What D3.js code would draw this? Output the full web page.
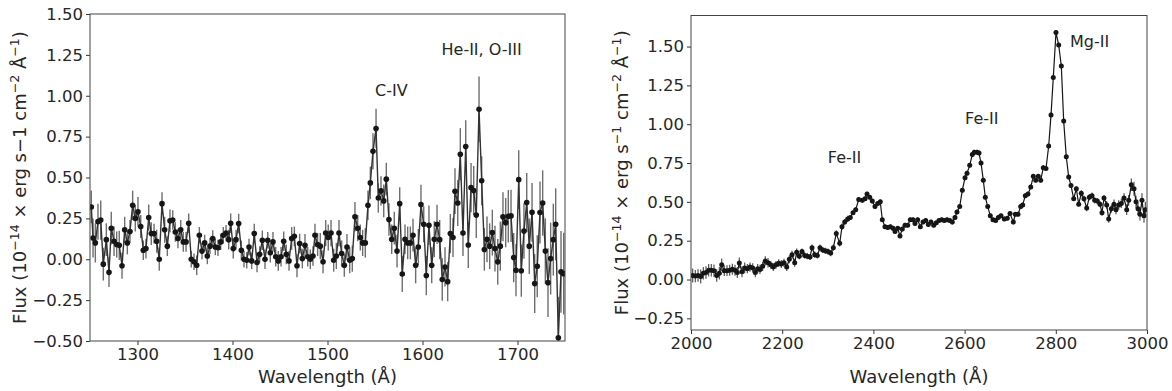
<!DOCTYPE html>
<html><head><meta charset="utf-8">
<script src="https://cdn.jsdelivr.net/npm/d3@7"></script>
<style>
html,body{margin:0;padding:0;background:#fff;}
svg{display:block;font-family:"DejaVu Sans",sans-serif;}
</style></head>
<body><svg id="chart" width="1172" height="391"></svg>
<script>
// ---------- LEFT PANEL DATA (C-IV / He-II region) ----------
const leftWave = [1251.4,1253.2,1255.6,1258.4,1261.3,1264.0,1267.2,1270.0,1272.4,1275.3,
1278.1,1280.8,1283.7,1286.5,1289.3,1292.1,1294.9,1297.7,1300.5,1303.4,
1306.1,1308.9,1311.8,1314.5,1317.4,1320.2,1322.9,1325.8,1328.6,1331.4,
1334.2,1337.1,1339.8,1342.6,1345.5,1348.2,1351.1,1353.9,1356.6,1359.5,
1362.3,1365.1,1367.9,1370.7,1373.5,1376.3,1379.2,1381.9,1384.7,1387.6,
1390.3,1393.2,1396.0,1398.1,1400.8,1403.7,1406.5,1409.3,1412.1,1415.0,
1417.4,1420.2,1422.9,1425.8,1428.6,1431.4,1434.2,1437.1,1439.8,1442.6,
1445.5,1448.2,1451.1,1453.9,1456.6,1459.5,1462.3,1465.1,1467.9,1470.7,
1473.5,1476.3,1479.2,1481.9,1484.7,1486.8,1489.6,1492.4,1495.3,1498.1,
1500.8,1503.7,1506.5,1509.3,1512.1,1514.9,1517.7,1520.5,1523.4,1526.1,
1528.9,1531.8,1534.5,1537.0,1539.8,1542.6,1545.1,1547.9,1551.1,1553.5,
1556.3,1559.2,1561.9,1564.7,1567.6,1570.3,1573.2,1576.0,1578.7,1581.6,
1584.4,1587.2,1590.0,1592.8,1595.6,1598.4,1601.3,1604.0,1606.8,1609.7,
1612.4,1615.3,1618.1,1620.8,1623.7,1626.5,1629.3,1632.1,1634.2,1637.1,
1639.8,1642.6,1645.5,1648.2,1651.1,1653.9,1656.6,1659.5,1662.3,1665.1,
1667.9,1670.7,1673.5,1676.3,1679.2,1681.9,1684.7,1687.6,1690.3,1693.2,
1696.0,1698.4,1701.3,1704.0,1706.8,1709.7,1712.4,1715.3,1718.1,1720.8,
1723.7,1726.5,1729.3,1732.1,1734.9,1737.7,1740.2,1743.0,1745.8,1748.6];
const leftFlux = [0.32,0.13,0.10,0.23,0.24,-0.03,0.12,-0.08,0.19,0.11,
0.09,0.085,-0.04,0.18,0.10,0.17,0.33,0.25,0.29,0.20,
0.055,0.065,0.255,0.157,0.157,0.11,0.0,0.34,0.18,0.08,
0.235,0.24,0.167,0.127,0.18,0.106,0.106,0.22,0.0,-0.015,
-0.037,0.147,0.05,0.10,0.02,0.08,0.127,0.075,0.07,0.106,
0.147,0.16,0.12,0.22,0.065,0.12,0.218,0.055,0.0,-0.006,
0.075,-0.01,0.157,-0.02,0.03,0.116,0.0,0.116,0.04,0.106,
0.015,-0.01,0.015,0.11,0.03,-0.01,0.127,0.14,-0.04,0.096,
0.004,0.085,0.015,0.0,0.02,0.147,0.09,0.08,-0.015,0.16,
0.133,0.16,-0.006,0.02,0.16,0.035,-0.037,0.075,-0.006,0.004,
0.26,0.19,0.133,0.10,0.10,0.33,0.467,0.66,0.80,0.375,
0.418,0.357,0.49,0.243,0.122,0.19,0.05,0.34,-0.09,0.122,
0.10,0.10,0.147,-0.037,0.075,0.335,0.214,-0.10,0.208,-0.037,
0.122,0.214,0.12,-0.124,-0.047,-0.137,0.157,0.133,0.416,0.344,
0.642,0.16,0.69,0.087,0.438,0.42,0.27,0.917,0.48,0.06,
0.122,0.08,0.163,0.065,-0.016,0.08,0.26,0.224,0.263,0.265,
0.01,-0.067,0.487,-0.07,0.173,0.347,0.08,0.287,-0.149,-0.043,
0.286,0.344,0.05,-0.143,0.004,0.12,0.214,-0.48,-0.077,-0.088];
const leftErr = [0.10,0.12,0.12,0.11,0.12,0.10,0.10,0.09,0.10,0.09,
0.08,0.09,0.08,0.08,0.07,0.07,0.09,0.08,0.09,0.07,
0.06,0.06,0.08,0.07,0.06,0.07,0.07,0.07,0.08,0.06,
0.07,0.06,0.06,0.06,0.06,0.06,0.06,0.06,0.05,0.05,
0.06,0.05,0.05,0.05,0.05,0.05,0.05,0.05,0.05,0.05,
0.05,0.05,0.06,0.06,0.06,0.06,0.06,0.06,0.05,0.05,
0.05,0.05,0.06,0.06,0.05,0.06,0.06,0.05,0.06,0.06,
0.06,0.06,0.06,0.06,0.06,0.06,0.07,0.06,0.07,0.06,
0.06,0.07,0.06,0.06,0.06,0.07,0.07,0.08,0.07,0.08,
0.08,0.08,0.07,0.08,0.08,0.08,0.07,0.08,0.08,0.08,
0.09,0.08,0.08,0.08,0.09,0.09,0.10,0.11,0.12,0.09,
0.09,0.10,0.10,0.10,0.09,0.10,0.10,0.10,0.11,0.09,
0.10,0.10,0.10,0.11,0.11,0.12,0.11,0.12,0.12,0.11,
0.11,0.12,0.12,0.13,0.12,0.12,0.12,0.12,0.14,0.14,
0.16,0.14,0.16,0.14,0.15,0.15,0.14,0.20,0.15,0.13,
0.14,0.14,0.14,0.14,0.14,0.15,0.15,0.15,0.16,0.16,
0.15,0.16,0.18,0.16,0.17,0.18,0.17,0.18,0.18,0.19,
0.19,0.20,0.20,0.21,0.22,0.22,0.22,0.25,0.25,0.25];
const leftXTicks = [1300,1400,1500,1600,1700];
const leftYTicks = [-0.5,-0.25,0,0.25,0.5,0.75,1.0,1.25,1.5];
const leftXDomain = [1250,1750];
const leftYDomain = [-0.5,1.5];
const leftLabels = ["C-IV","He-II, O-III"];
const leftLabelX = [1550,1620];
const leftLabelY = [1.0,1.25];

// ---------- RIGHT PANEL DATA (Fe-II / Mg-II region) ----------
const rightWave = [2003.7,2009.4,2015.4,2021.3,2027.0,2032.9,2038.8,2044.5,2050.4,2056.4,
2062.1,2067.3,2073.0,2078.9,2084.9,2090.6,2096.5,2101.5,2105.9,2111.8,
2117.8,2123.5,2129.4,2135.3,2141.0,2146.3,2151.3,2157.2,2162.9,2168.9,
2174.8,2180.5,2186.4,2192.3,2198.0,2203.9,2209.9,2215.6,2221.5,2227.4,
2231.8,2237.5,2243.4,2249.3,2255.0,2261.0,2265.4,2271.3,2277.0,2282.9,
2288.8,2294.5,2300.4,2306.4,2312.1,2318.6,2326.1,2331.1,2337.1,2343.6,
2349.3,2355.3,2361.2,2367.8,2375.7,2381.6,2386.0,2391.9,2397.6,2403.5,
2409.4,2415.1,2419.5,2425.4,2431.4,2437.1,2443.0,2447.4,2453.3,2458.3,
2463.4,2469.3,2475.2,2480.9,2486.8,2491.2,2497.1,2502.9,2508.8,2514.7,
2520.4,2526.3,2532.2,2537.9,2543.9,2549.8,2555.5,2561.4,2567.3,2573.0,
2578.9,2583.3,2589.3,2595.0,2600.9,2605.3,2611.2,2616.9,2621.3,2627.2,
2631.6,2636.0,2641.0,2645.4,2650.7,2656.4,2662.3,2668.2,2673.9,2679.8,
2687.1,2693.6,2699.6,2706.8,2711.2,2717.1,2723.0,2727.4,2733.1,2739.0,
2745.0,2750.7,2755.9,2761.6,2766.9,2772.6,2778.5,2784.4,2789.5,2794.5,
2800.4,2806.4,2812.1,2817.3,2823.0,2828.3,2833.3,2839.3,2845.0,2850.2,
2855.9,2861.8,2867.8,2873.5,2879.4,2885.3,2891.0,2896.9,2901.3,2905.7,
2911.6,2916.0,2921.7,2927.6,2932.0,2938.0,2943.6,2949.6,2955.5,2959.9,
2965.6,2971.5,2975.9,2980.3,2984.6,2989.0,2993.4,2996.3];
const rightFlux = [0.026,0.022,0.026,0.020,0.040,0.045,0.060,0.060,0.057,0.026,
0.040,0.095,0.057,0.057,0.060,0.066,0.060,0.045,0.107,0.050,
0.075,0.070,0.080,0.075,0.045,0.070,0.065,0.085,0.120,0.108,
0.095,0.080,0.095,0.105,0.100,0.108,0.080,0.130,0.160,0.108,
0.175,0.150,0.180,0.155,0.150,0.145,0.205,0.160,0.155,0.205,
0.190,0.185,0.180,0.170,0.205,0.297,0.233,0.340,0.370,0.390,
0.400,0.430,0.450,0.515,0.510,0.520,0.550,0.530,0.505,0.470,
0.490,0.500,0.385,0.340,0.335,0.340,0.330,0.310,0.330,0.280,
0.325,0.350,0.350,0.385,0.385,0.360,0.385,0.340,0.370,0.380,
0.355,0.370,0.350,0.365,0.380,0.385,0.380,0.385,0.380,0.370,
0.400,0.435,0.470,0.575,0.655,0.685,0.735,0.805,0.820,0.820,
0.815,0.750,0.640,0.530,0.470,0.410,0.385,0.380,0.400,0.410,
0.390,0.395,0.425,0.370,0.420,0.420,0.470,0.480,0.540,0.550,
0.595,0.665,0.640,0.665,0.640,0.720,0.715,0.860,1.060,1.300,
1.590,1.510,1.375,1.020,0.790,0.660,0.605,0.520,0.585,0.485,
0.555,0.520,0.460,0.530,0.540,0.510,0.505,0.485,0.430,0.525,
0.480,0.390,0.455,0.485,0.450,0.480,0.490,0.525,0.450,0.510,
0.610,0.585,0.500,0.455,0.420,0.510,0.410,0.450];
const rightErr = [0.045,0.04,0.04,0.045,0.04,0.04,0.04,0.04,0.04,0.04,
0.04,0.04,0.035,0.035,0.035,0.035,0.035,0.035,0.035,0.035,
0.035,0.03,0.03,0.03,0.03,0.03,0.03,0.03,0.03,0.03,
0.025,0.025,0.025,0.025,0.025,0.025,0.025,0.025,0.025,0.025,
0.025,0.02,0.02,0.02,0.02,0.02,0.02,0.02,0.02,0.02,
0.02,0.02,0.02,0.02,0.02,0.02,0.02,0.02,0.02,0.02,
0.015,0.015,0.015,0.015,0.015,0.015,0.015,0.015,0.015,0.015,
0.015,0.015,0.015,0.015,0.015,0.015,0.015,0.015,0.015,0.015,
0.015,0.015,0.015,0.015,0.015,0.015,0.015,0.015,0.015,0.015,
0.015,0.015,0.015,0.015,0.015,0.015,0.015,0.015,0.015,0.015,
0.015,0.015,0.015,0.015,0.015,0.015,0.015,0.015,0.015,0.015,
0.015,0.015,0.015,0.015,0.015,0.015,0.015,0.015,0.015,0.015,
0.015,0.015,0.015,0.015,0.015,0.015,0.015,0.015,0.015,0.015,
0.015,0.015,0.015,0.015,0.015,0.015,0.015,0.015,0.015,0.015,
0.015,0.015,0.015,0.015,0.015,0.015,0.015,0.015,0.015,0.015,
0.02,0.02,0.02,0.02,0.02,0.02,0.02,0.02,0.02,0.02,
0.025,0.025,0.025,0.03,0.03,0.03,0.03,0.03,0.035,0.035,
0.04,0.045,0.04,0.04,0.04,0.045,0.045,0.05];
const rightXTicks = [2000,2200,2400,2600,2800,3000];
const rightYTicks = [-0.25,0,0.25,0.5,0.75,1.0,1.25,1.5];
const rightXDomain = [2000,3000];
const rightYDomain = [-0.325,1.70];
const rightLabels = ["Fe-II","Fe-II","Mg-II"];
const rightLabelX = [2300,2601,2831];
const rightLabelY = [0.75,1.0,1.5];

const svg = d3.select("#chart");
const fmt = d3.format(".2f");

function panel(cfg){
  const {id,x0,x1,y0,y1,xd,yd,wave,flux,err,xt,yt,labels,lx,ly,supS,ylabX,style} = cfg;
  const x = d3.scaleLinear().domain(xd).range([x0,x1]);
  const y = d3.scaleLinear().domain(yd).range([y1,y0]);
  const g = svg.append("g");
  g.append("clipPath").attr("id","clip"+id).append("rect")
    .attr("x",x0).attr("y",y0).attr("width",x1-x0).attr("height",y1-y0);
  const pts = wave.map((w,i)=>({w, f:flux[i], e:err[i]}));
  const data = g.append("g").attr("clip-path",`url(#clip${id})`);
  data.selectAll("line.err").data(pts).join("line").attr("class","err")
    .attr("x1",d=>x(d.w)).attr("x2",d=>x(d.w))
    .attr("y1",d=>y(d.f-d.e)).attr("y2",d=>y(d.f+d.e))
    .attr("stroke",style.ecol).attr("stroke-width",style.ew);
  data.append("path").datum(pts)
    .attr("d",d3.line().x(d=>x(d.w)).y(d=>y(d.f)))
    .attr("fill","none").attr("stroke",style.lcol).attr("stroke-width",style.lw);
  data.selectAll("circle").data(pts).join("circle")
    .attr("cx",d=>x(d.w)).attr("cy",d=>y(d.f)).attr("r",style.r)
    .attr("fill","#161616");
  // axes
  const xa = g.append("g").attr("transform",`translate(0,${y1})`)
    .call(d3.axisBottom(x).tickValues(xt).tickSize(4).tickPadding(3).tickFormat(d3.format("d")));
  const ya = g.append("g").attr("transform",`translate(${x0},0)`)
    .call(d3.axisLeft(y).tickValues(yt).tickSize(4).tickPadding(3).tickFormat(fmt));
  [xa,ya].forEach(a=>{
    a.select(".domain").remove();
    a.selectAll("text").attr("font-size",16.5).attr("fill","#262626").attr("font-family","DejaVu Sans");
    a.selectAll("line").attr("stroke","#333");
  });
  g.append("rect").attr("x",x0).attr("y",y0).attr("width",x1-x0).attr("height",y1-y0)
    .attr("fill","none").attr("stroke","#444").attr("stroke-width",1);
  // annotations
  labels.forEach((t,i)=>{
    g.append("text").attr("x",x(lx[i])).attr("y",y(ly[i])).text(t)
      .attr("font-size",16).attr("fill","#262626");
  });
  // x label
  g.append("text").attr("x",(x0+x1)/2).attr("y",383).attr("text-anchor","middle")
    .attr("font-size",18).attr("fill","#262626").text("Wavelength (Å)");
  // y label (superscripts shift up, following text shifts back down)
  const yl = g.append("text").attr("text-anchor","middle").attr("font-size",18).attr("fill","#262626")
    .attr("transform",`translate(${ylabX},${(y0+y1)/2}) rotate(-90)`);
  let raised = false;
  supS.forEach(s=>{
    const ts = yl.append("tspan").text(s.t);
    if(s.sup){ ts.attr("dy",-7).attr("font-size",12.6); raised = true; }
    else if(raised){ ts.attr("dy",7); raised = false; }
  });
}

panel({id:"L",x0:90,x1:565,y0:14,y1:341,xd:leftXDomain,yd:leftYDomain,
  wave:leftWave,flux:leftFlux,err:leftErr,xt:leftXTicks,yt:leftYTicks,
  labels:leftLabels,lx:leftLabelX,ly:leftLabelY,ylabX:26,
  supS:[{t:"Flux (10"},{t:"−14",sup:true},{t:" × erg s−1 cm"},{t:"−2",sup:true},{t:" Å"},{t:"−1",sup:true},{t:")"}],
  style:{ecol:"#6e6e6e",ew:1.4,lcol:"#333",lw:1.4,r:2.8}});
panel({id:"R",x0:691,x1:1147,y0:15.5,y1:330,xd:rightXDomain,yd:rightYDomain,
  wave:rightWave,flux:rightFlux,err:rightErr,xt:rightXTicks,yt:rightYTicks,
  labels:rightLabels,lx:rightLabelX,ly:rightLabelY,ylabX:628,
  supS:[{t:"Flux (10"},{t:"−14",sup:true},{t:" × erg s"},{t:"−1",sup:true},{t:" cm"},{t:"−2",sup:true},{t:" Å"},{t:"−1",sup:true},{t:")"}],
  style:{ecol:"#444",ew:1.1,lcol:"#161616",lw:1.2,r:2.5}});
</script></body></html>
